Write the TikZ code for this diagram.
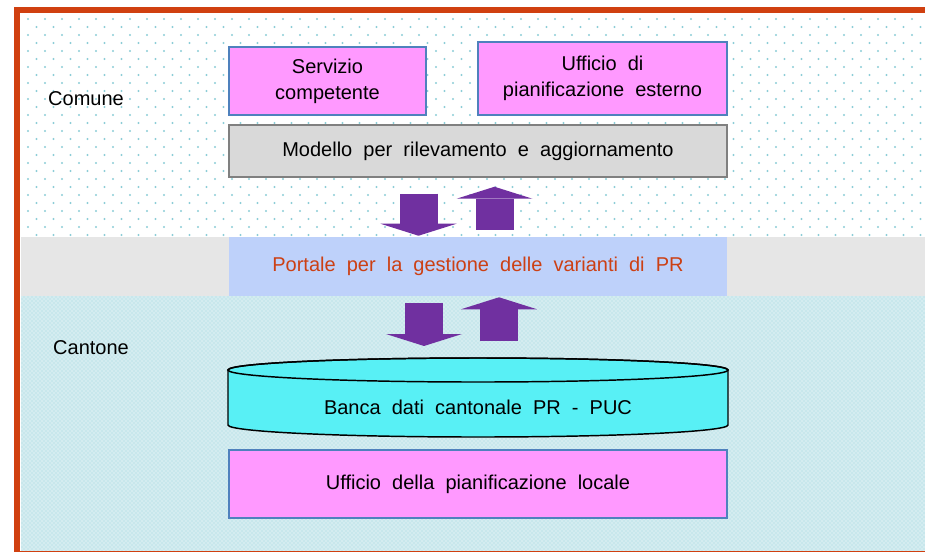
\documentclass[tikz,border=0pt]{standalone}
\usepackage{fontspec}
\setmainfont[WordSpace=2]{Liberation Sans}
\usetikzlibrary{arrows.meta,calc,patterns}

\definecolor{framered}{RGB}{208,64,16}
\definecolor{dotcyan}{RGB}{140,205,215}
\definecolor{cantonebg}{RGB}{200,231,236}
\definecolor{bandgray}{RGB}{230,230,230}
\definecolor{officepink}{RGB}{255,153,255}
\definecolor{officeblue}{RGB}{79,129,189}
\definecolor{modelgray}{RGB}{217,217,217}
\definecolor{portalblue}{RGB}{190,209,250}
\definecolor{portaltext}{RGB}{204,64,20}
\definecolor{dbcyan}{RGB}{88,240,245}
\definecolor{flowpurple}{RGB}{112,48,160}

\begin{document}
\begin{tikzpicture}[x=0.75pt, y=-0.75pt, font=\fontsize{15}{19.5}\selectfont,
  office/.style={draw=officeblue, line width=1.1pt, fill=officepink, align=center, inner sep=0pt},
  model/.style={draw=gray, line width=1.1pt, fill=modelgray, inner sep=0pt},
  flow/.style={draw=flowpurple, line width=28.5pt, -{Triangle[length=9pt,width=57pt,line width=0pt]}}]
  \useasboundingbox (0,0) rectangle (925,551);
  % Comune: dotted ground.
  \fill[white] (0,0) rectangle (925,551);
  \foreach \j in {0,...,27} {
    \pgfmathsetmacro\dotshift{8.5*mod(\j,2)}
    \foreach \i in {0,...,53} {
      \fill[dotcyan] ({28+17*\i+\dotshift}, {19+8*\j}) circle[radius=1.1];
    }
  }
  % Cantone: hatched ground.
  \fill[cantonebg] (21,296) rectangle (925,551);
  \fill[pattern=crosshatch dots, pattern color=white] (21,296) rectangle (925,551);
  % Middle band and frame.
  \fill[bandgray] (21,237) rectangle (925,296);
  \draw[framered, line width=4.5pt] (17,9.5) rectangle (945,553.5);
  % Levels.
  \node (comune) at (86,99) {Comune};
  \node (cantone) at (91,348) {Cantone};
  % Offices and model.
  \node[office, minimum width=147.75pt, minimum height=51pt] (servizio) at (327.5,81) {Servizio\\competente};
  \node[office, minimum width=186.75pt, minimum height=54.75pt] (esterno) at (602.5,78.5) {Ufficio di\\pianificazione esterno};
  \node[model, minimum width=373.5pt, minimum height=39pt] (modello) at (478,151) {Modello per rilevamento e aggiornamento};
  \node[fill=portalblue, text=portaltext, minimum width=373.5pt, minimum height=44.25pt, inner sep=0pt] (portale) at (478,266.5) {Portale per la gestione delle varianti di PR};
  % Database.
  \filldraw[fill=dbcyan, draw=black, line width=1.1pt] (228,370) -- (228,425)
    arc[start angle=180, end angle=0, x radius=250, y radius=12] -- (728,370)
    arc[start angle=0, end angle=-180, x radius=250, y radius=12] -- cycle;
  \draw[line width=1.1pt] (478,370) ellipse[x radius=250, y radius=12];
  \coordinate (bancatop) at (478,358);
  \node (banca) at (478,407) {Banca dati cantonale PR - PUC};
  \node[office, minimum width=373.5pt, minimum height=51pt] (locale) at (478,484) {Ufficio della pianificazione locale};
  % Exchanges.
  \draw[flow] ($(modello.south)+(-59.5,16)$) -- ($(portale.north)+(-59.5,-1)$);
  \draw[flow] ($(portale.north)+(16.5,-7)$) -- ($(modello.south)+(16.5,9)$);
  \draw[flow] ($(portale.south)+(-54,7)$) -- ($(bancatop)+(-54,-12)$);
  \draw[flow] ($(bancatop)+(21,-17)$) -- ($(portale.south)+(21,1)$);
\end{tikzpicture}
\end{document}
